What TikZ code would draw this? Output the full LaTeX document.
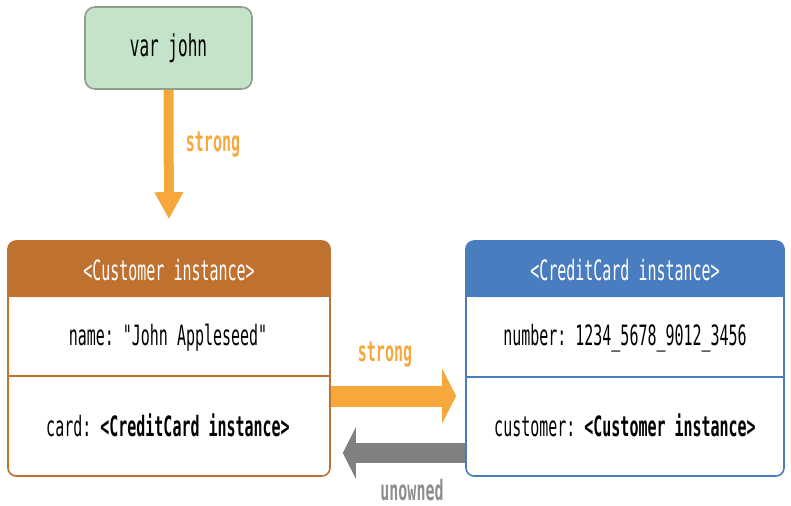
\documentclass[tikz,border=0pt]{standalone}
\usepackage{fontspec}
\setmonofont[FakeStretch=0.535]{DejaVu Sans Mono}
\usepackage{tikz}
\usetikzlibrary{arrows.meta}
\definecolor{varfill}{HTML}{C5E3C8}
\definecolor{varline}{HTML}{8E9E8F}
\definecolor{strongcol}{HTML}{F6A83C}
\definecolor{custcol}{HTML}{BF7230}
\definecolor{cardcol}{HTML}{4A7CC0}
\definecolor{weakcol}{HTML}{808080}
\tikzset{txt/.style={font=\ttfamily\fontsize{14}{16}\selectfont},
         head/.style={txt,text=white},
         lbl/.style={txt,font=\ttfamily\bfseries\fontsize{14}{16}\selectfont},
         frame/.style={draw=#1,line width=0.8pt,rounded corners=4pt,minimum width=161pt,minimum height=117.5pt}}
\begin{document}
\begin{tikzpicture}[x=0.5pt,y=-0.5pt]
\useasboundingbox (0,0) rectangle (791,505);
% variable
\node[draw=varline,fill=varfill,line width=0.8pt,rounded corners=5pt,minimum width=83.5pt,minimum height=41pt,
      font=\ttfamily\fontsize{15}{17}\selectfont] (john) at (168.5,48) {var john};
% instances
\fill[custcol,rounded corners=4pt] (8,241) rectangle (330,297);
\fill[custcol] (8,280) rectangle (330,297);
\node[frame=custcol] (cust) at (169,358.5) {};
\draw[custcol,line width=0.8pt] (8,376)--(330,376);
\fill[cardcol,rounded corners=4pt] (466,241) rectangle (784,297);
\fill[cardcol] (466,280) rectangle (784,297);
\node[frame=cardcol,minimum width=159pt] (card) at (625,358.5) {};
\draw[cardcol,line width=0.8pt] (466,377)--(784,377);
\node[head] (custhead) at (169,270) {<Customer instance>};
\node[txt] (custname) at (168,338) {name: "John Appleseed"};
\node[txt] (custcard) at (168,425) {card: \textbf{<CreditCard instance>}};
\node[head] (cardhead) at (625,270) {<CreditCard instance>};
\node[txt] (cardnum) at (625,338) {number: 1234\_5678\_9012\_3456};
\node[txt] (cardcust) at (625,425) {customer: \textbf{<Customer instance>}};
% references
\draw[strongcol,line width=5pt,-{Triangle[width=13.5pt,length=13.5pt]},shorten >=10.5pt] (john.south)--(cust.north);
\draw[strongcol,line width=10.5pt,-{Triangle[width=27pt,length=7pt]},shorten >=4.5pt]
  ([yshift=-18.75pt]cust.east)--([yshift=-18.75pt]card.west);
\draw[weakcol,line width=10pt,-{Triangle[width=25.5pt,length=6.5pt]},shorten >=6pt]
  ([yshift=-47.25pt]card.west)--([yshift=-47.25pt]cust.east);
\node[lbl,text=strongcol] (s1) at (213,145) {strong};
\node[lbl,text=strongcol] (s2) at (385,355) {strong};
\node[lbl,text=weakcol!90] (u1) at (412,490) {unowned};
\end{tikzpicture}
\end{document}
